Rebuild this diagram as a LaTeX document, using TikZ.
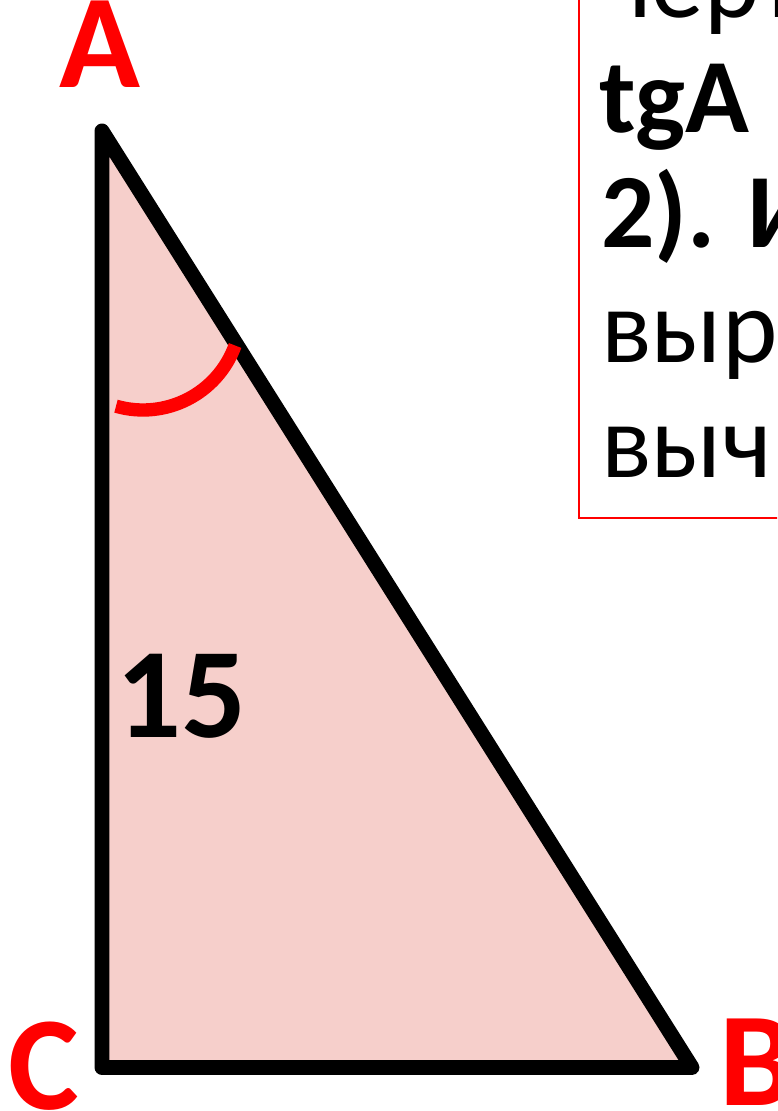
\documentclass[tikz,border=0pt]{standalone}
\usepackage{fontspec}
\setmainfont{Carlito}
\usepackage{xcolor}
\usepackage{tikz}
\usetikzlibrary{positioning, calc}
\definecolor{markred}{HTML}{FF0000}
\definecolor{trifill}{HTML}{F6CFCB}
\definecolor{inkOne}{HTML}{000000}
\tikzset{
  side/.style={draw=inkOne, line width=8.5pt, line join=round, fill=trifill},
  vlabel/.style={font=\fontsize{76}{80}\selectfont\bfseries, text=markred, inner sep=0pt},
  anglemark/.style={draw=markred, line width=7.6pt},
  taskbox/.style={draw=markred, line width=1.1pt},
  taskline/.style={font=\fontsize{60}{64}\selectfont, text=inkOne, inner sep=0pt, anchor=base west},
}

\begin{document}
\begin{tikzpicture}[x=0.02cm, y=0.02cm]
  \useasboundingbox (0,0) rectangle (777,1111);
  \clip (0,0) rectangle (777,1111);
  % ---- triangle ABC with the right angle at C
  \coordinate (A) at (102,980);
  \coordinate (C) at (102,43.5);
  \coordinate (B) at (692,43.5);
  \draw[side] (A) -- (C) -- (B) -- cycle;
  \draw[anglemark] (143,799) ++(-106:98) arc[start angle=-106, end angle=-20, radius=98];
  \node[vlabel, anchor=base] (lA) at (100,1023) {A};
  \node[vlabel, anchor=base] (lC) at (44,2) {C};
  \node[vlabel, anchor=base west] (lB) at (719,6) {B};
  \node[font=\fontsize{73}{76}\selectfont\bfseries, inner sep=0pt, anchor=base west] (len) at (116,373) {15};
  % ---- task text, cut by the page edge
  \draw[taskbox] (579,593) rectangle (840,1180);
  \node[taskline] (t1) at (602,1093) {чертежу};
  \node[taskline, font=\fontsize{60}{64}\selectfont\bfseries] (t2) at (599,978) {tgA};
  \node[taskline, font=\fontsize{60}{64}\selectfont\bfseries] (t3) at (601,863) {2). Из};
  \node[taskline] (t4) at (601,748) {выразите};
  \node[taskline] (t5) at (601,633) {вычислите};
\end{tikzpicture}
\end{document}
